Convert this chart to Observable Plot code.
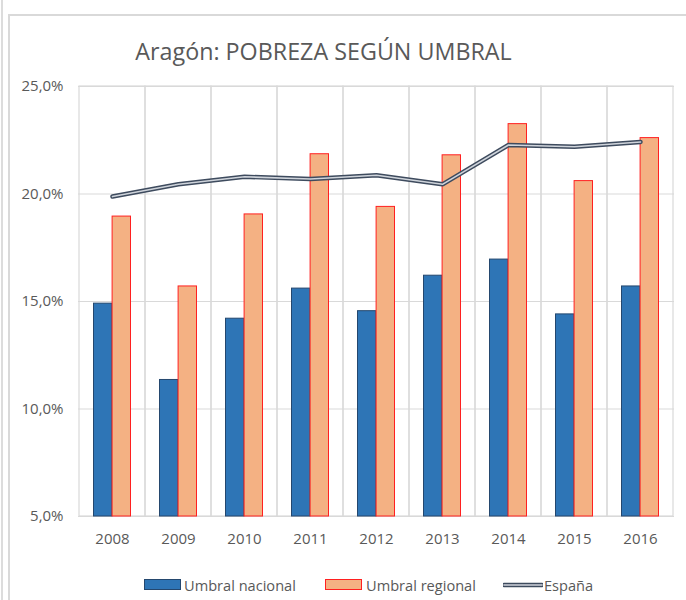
<!DOCTYPE html>
<html>
<head>
<meta charset="utf-8">
<script src="https://cdn.jsdelivr.net/npm/d3@7"></script>
<script src="https://cdn.jsdelivr.net/npm/@observablehq/plot@0.6"></script>
<style>
  html, body { margin: 0; padding: 0; background: #fff; }
  #wrap { position: relative; width: 686px; height: 600px; overflow: hidden; font-family: "Open Sans", sans-serif; color: #595959; }
  #outerline { position: absolute; left: 1px; top: 0; width: 2px; height: 600px; background: #dcdcdc; }
  #frame { position: absolute; left: 8px; top: 14px; width: 760px; height: 700px; border: 2px solid #d9d9d9; box-sizing: border-box; }
  #title { position: absolute; left: 0; width: 647px; top: 35px; text-align: center; font-size: 23.3px; color: #595959; white-space: nowrap; }
  #chart { position: absolute; left: 0; top: 70px; }
  .leg { position: absolute; top: 575px; font-size: 14.6px; color: #595959; white-space: nowrap; line-height: 20px; }
  .sw { position: absolute; }
</style>
</head>
<body>
<div id="wrap">
  <div id="outerline"></div>
  <div id="frame"></div>
  <div id="title"></div>
  <div id="chart"></div>
  <div id="legend"></div>
</div>
<script>
// ---- data ----
const titleText = "Aragón: POBREZA SEGÚN UMBRAL";
const years = ["2008", "2009", "2010", "2011", "2012", "2013", "2014", "2015", "2016"];
const umbralNacional = [14.9, 11.35, 14.2, 15.6, 14.55, 16.2, 16.95, 14.4, 15.7];
const umbralRegional = [18.95, 15.7, 19.05, 21.85, 19.4, 21.8, 23.25, 20.6, 22.6];
const espana = [19.88, 20.45, 20.8, 20.7, 20.87, 20.45, 22.28, 22.2, 22.42];
const yTicks = [5, 10, 15, 20, 25];
const seriesNames = ["Umbral nacional", "Umbral regional", "España"];

// ---- build ----
document.getElementById("title").textContent = titleText;

const yMin = yTicks[0], yMax = yTicks[yTicks.length - 1];
const rows = years.map((y, i) => ({year: y, nac: umbralNacional[i], reg: umbralRegional[i], esp: espana[i]}));
const fmt = d => d.toFixed(1).replace(".", ",") + "%";

const chart = Plot.plot({
  width: 686,
  height: 490,
  marginLeft: 78,
  marginRight: 12,
  marginTop: 16,
  marginBottom: 44,
  style: {fontFamily: "Open Sans, sans-serif", fontSize: "15px", color: "#595959", background: "transparent", overflow: "visible"},
  x: {type: "band", domain: years, padding: 0, label: null, tickSize: 0, tickPadding: 17},
  y: {domain: [yMin, yMax], ticks: yTicks, tickFormat: fmt, label: null, tickSize: 0, tickPadding: 15},
  marks: [
    Plot.ruleY(yTicks, {y: d => d, stroke: "#d9d9d9", strokeWidth: 1.2}),
    Plot.barY(years, {x: d => d, y1: () => yMin, y2: () => yMax, fill: "none", stroke: "#d9d9d9", strokeWidth: 1.2}),
    Plot.barY(rows, {x: "year", y1: () => yMin, y2: "nac", fill: "#2e75b6", stroke: "#24476e", strokeWidth: 1, insetLeft: 14.5, insetRight: 33.1}),
    Plot.barY(rows, {x: "year", y1: () => yMin, y2: "reg", fill: "#f4b183", stroke: "#ff2020", strokeWidth: 1, insetLeft: 33.1, insetRight: 14.5}),
    Plot.lineY(rows, {x: "year", y: "esp", stroke: "#3e4b5e", strokeWidth: 4.5, strokeLinejoin: "miter"}),
    Plot.lineY(rows, {x: "year", y: "esp", stroke: "#cfd4db", strokeWidth: 1.6, strokeLinejoin: "miter"})
  ]
});
document.getElementById("chart").appendChild(chart);

// ---- legend ----
const legItems = [
  {name: seriesNames[0], sx: 144, tx: 184, kind: "bar", fill: "#2e75b6", stroke: "#24476e"},
  {name: seriesNames[1], sx: 325, tx: 366, kind: "bar", fill: "#f4b183", stroke: "#ff2020"},
  {name: seriesNames[2], sx: 503, tx: 544, kind: "line"}
];
for (const it of legItems) {
  const sw = document.createElementNS("http://www.w3.org/2000/svg", "svg");
  sw.setAttribute("class", "sw");
  sw.setAttribute("width", 40);
  sw.setAttribute("height", 12);
  sw.style.left = it.sx + "px";
  sw.style.top = "579px";
  sw.style.position = "absolute";
  if (it.kind === "bar") {
    sw.innerHTML = `<rect x="0.5" y="0.5" width="36" height="10" fill="${it.fill}" stroke="${it.stroke}" stroke-width="1"/>`;
  } else {
    sw.innerHTML = `<line x1="1" y1="6" x2="39" y2="6" stroke="#3e4b5e" stroke-width="4.5" stroke-linecap="round"/><line x1="1" y1="6" x2="39" y2="6" stroke="#cfd4db" stroke-width="1.6" stroke-linecap="round"/>`;
  }
  document.getElementById("wrap").appendChild(sw);
  const t = document.createElement("div");
  t.className = "leg";
  t.style.left = it.tx + "px";
  t.textContent = it.name;
  document.getElementById("wrap").appendChild(t);
}
</script>
</body>
</html>
